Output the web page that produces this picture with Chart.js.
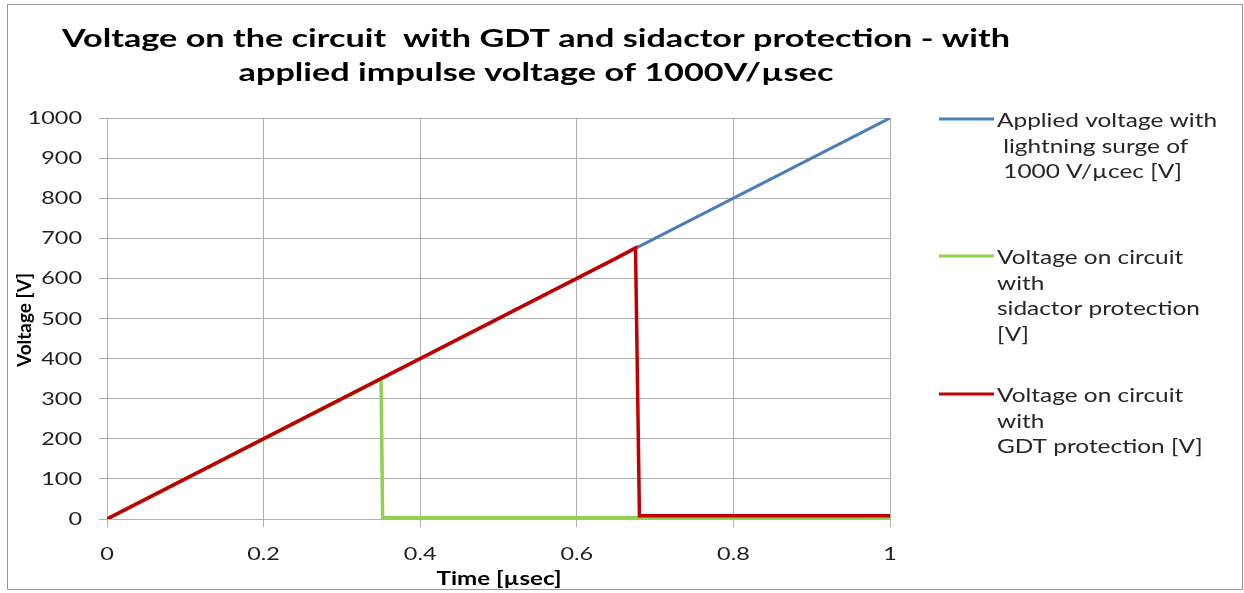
<!DOCTYPE html>
<html><head><meta charset="utf-8">
<script src="https://cdn.jsdelivr.net/npm/chart.js@4"></script>
<style>html,body{margin:0;padding:0;background:#fff}#wrap{width:1244px;height:593px}</style>
</head><body><div id="wrap"><canvas id="c" width="1244" height="593"></canvas></div>
<script>
const titleLines = ["Voltage on the circuit  with GDT and sidactor protection - with", "applied impulse voltage of 1000V/\u00b5sec"];
const xTitle = "Time [\u00b5sec]";
const yTitle = "Voltage [V]";
const xTicks = [0, 0.2, 0.4, 0.6, 0.8, 1];
const yTicks = [0, 100, 200, 300, 400, 500, 600, 700, 800, 900, 1000];
const appliedX = [0, 1];
const appliedY = [0, 1000];
const sidactorX = [0, 0.35, 0.352, 1];
const sidactorY = [0, 350, 3, 3];
const gdtX = [0, 0.65, 0.675, 0.68, 1];
const gdtY = [0, 650, 676, 8, 8];
const legendLabels = [
  ["Applied voltage with", " lightning surge of", " 1000 V/\u00b5cec [V]"],
  ["Voltage on circuit", "with", "sidactor protection", "[V]"],
  ["Voltage on circuit", "with", "GDT protection [V]"]
];
const colors = ["#4a7ebb", "#92d050", "#c00000"];

const pts = (xs, ys) => xs.map((x, i) => ({x, y: ys[i]}));

// draw text stretched horizontally by sx
function sText(ctx, t, x, y, sx, align) {
  ctx.save();
  const w = ctx.measureText(t).width * sx;
  let x0 = x;
  if (align === 'center') x0 = x - w / 2;
  else if (align === 'right') x0 = x - w;
  ctx.translate(x0, y);
  ctx.scale(sx, 1);
  ctx.textAlign = 'left';
  ctx.fillText(t, 0, 0);
  ctx.restore();
}
function fitScale(ctx, t, target) { return target / ctx.measureText(t).width; }

const decor = {
  id: 'decor',
  beforeDraw(chart) {
    const ctx = chart.ctx;
    ctx.save();
    ctx.fillStyle = '#fff';
    ctx.fillRect(0, 0, chart.width, chart.height);
    ctx.strokeStyle = '#999';
    ctx.lineWidth = 1;
    ctx.strokeRect(7.5, 4.5, 1235, 585);
    ctx.restore();
  },
  afterDraw(chart) {
    const ctx = chart.ctx;
    ctx.save();
    ctx.textBaseline = 'alphabetic';
    // title
    ctx.fillStyle = '#000';
    ctx.font = 'bold 25px Lato';
    const tsx = fitScale(ctx, titleLines[0], 948);
    sText(ctx, titleLines[0], 536, 47, tsx, 'center');
    sText(ctx, titleLines[1], 536, 81, tsx, 'center');
    // tick labels from the library's scales
    const xs = chart.scales.x, ys = chart.scales.y;
    ctx.fillStyle = '#1e1e1e';
    ctx.font = '16.5px Lato';
    ys.ticks.forEach(tk => {
      const py = ys.getPixelForValue(tk.value);
      sText(ctx, String(tk.value), 82, py + 6, 1.42, 'right');
    });
    xs.ticks.forEach(tk => {
      const px = xs.getPixelForValue(tk.value);
      sText(ctx, String(tk.value), px, 560, 1.42, 'center');
    });
    // axis titles
    ctx.fillStyle = '#000';
    ctx.font = 'bold 19px Lato';
    sText(ctx, xTitle, 499, 585, fitScale(ctx, xTitle, 125), 'center');
    ctx.font = 'bold 18px Lato';
    const ysx = fitScale(ctx, yTitle, 94);
    ctx.save();
    ctx.translate(31, 320);
    ctx.rotate(-Math.PI / 2);
    sText(ctx, yTitle, 0, 0, ysx, 'center');
    ctx.restore();
    // legend
    const starts = [119, 256, 394];
    ctx.font = '19.5px Lato';
    const lsx = fitScale(ctx, legendLabels[0][0], 220);
    legendLabels.forEach((lines, i) => {
      ctx.strokeStyle = colors[i];
      ctx.lineWidth = 3;
      ctx.beginPath();
      ctx.moveTo(939, starts[i]);
      ctx.lineTo(994, starts[i]);
      ctx.stroke();
      ctx.fillStyle = '#262626';
      lines.forEach((t, j) => sText(ctx, t, 997, starts[i] + 8 + j * 25.7, lsx, 'left'));
    });
    ctx.restore();
  }
};

new Chart(document.getElementById('c'), {
  type: 'line',
  data: {
    datasets: [
      {label: legendLabels[0].join(' '), data: pts(appliedX, appliedY), borderColor: colors[0], borderWidth: 3, pointRadius: 0, order: 2},
      {label: legendLabels[1].join(' '), data: pts(sidactorX, sidactorY), borderColor: colors[1], borderWidth: 3.5, pointRadius: 0, order: 1},
      {label: legendLabels[2].join(' '), data: pts(gdtX, gdtY), borderColor: colors[2], borderWidth: 3.5, pointRadius: 0, order: 0}
    ]
  },
  options: {
    responsive: false,
    animation: false,
    layout: {padding: {top: 118, right: 354, left: 0, bottom: 0}},
    plugins: {legend: {display: false}, tooltip: {enabled: false}, title: {display: false}},
    scales: {
      x: {
        type: 'linear', min: 0, max: 1,
        afterBuildTicks: s => { s.ticks = xTicks.map(v => ({value: v})); },
        afterFit: s => { s.height = 74; },
        grid: {color: '#b0b0b0', lineWidth: 1, tickLength: 8, drawTicks: true},
        border: {color: '#b0b0b0'},
        ticks: {display: false},
        title: {display: false}
      },
      y: {
        type: 'linear', min: 0, max: 1000,
        afterBuildTicks: s => { s.ticks = yTicks.map(v => ({value: v})); },
        afterFit: s => { s.width = 107; },
        grid: {color: '#b0b0b0', lineWidth: 1, tickLength: 8, drawTicks: true},
        border: {color: '#b0b0b0'},
        ticks: {display: false},
        title: {display: false}
      }
    }
  },
  plugins: [decor]
});
</script></body></html>
